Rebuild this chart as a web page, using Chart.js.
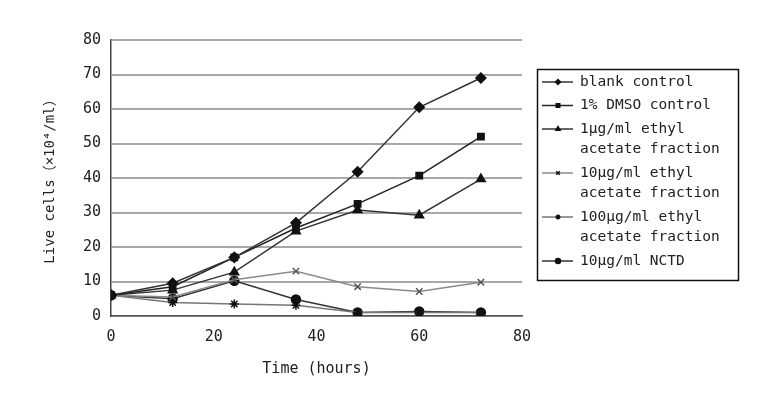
<!DOCTYPE html>
<html lang="en">
<head>
<meta charset="UTF-8">
<title>Live cells</title>
<script src="https://cdn.jsdelivr.net/npm/chart.js@4.4.0"></script>
<style>
  body { margin: 0; background: #fff; }
  #wrap { width: 757px; height: 394px; }
</style>
</head>
<body>
<div id="wrap"><canvas id="c" width="757" height="394"></canvas></div>
<script>
// time points (hours)
const hours = [0, 12, 24, 36, 48, 60, 72];

// live cells (x10^4/ml)
const blankControl = [6, 9.5, 17, 27, 41.8, 60.5, 69];
const dmsoControl = [6, 8.5, 17, 25.5, 32.5, 40.7, 52];
const ethyl1 = [6, 7.5, 12.7, 24.6, 30.7, 29.2, 39.7];
const ethyl10 = [6, 5.5, 10.5, 13, 8.5, 7.1, 9.8];
const ethyl100 = [6, 3.9, 3.5, 3.1, 1, 1, 1];
const nctd = [6, 5, 10.2, 4.8, 1, 1.3, 1];

const yTicks = [0, 10, 20, 30, 40, 50, 60, 70, 80];
const xTicks = [0, 20, 40, 60, 80];

const seriesNames = [
  ['blank control'],
  ['1% DMSO control'],
  ['1μg/ml ethyl', 'acetate fraction'],
  ['10μg/ml ethyl', 'acetate fraction'],
  ['100μg/ml ethyl', 'acetate fraction'],
  ['10μg/ml NCTD']
];

const FONT = '"DejaVu Sans Mono", "Noto Sans CJK JP", monospace';

function pts(vals) { return hours.map((h, i) => ({ x: h, y: vals[i] })); }

const styles = [
  { line: '#333', point: 'rectRot', r: 5 },
  { line: '#222', point: 'rect', r: 4.5 },
  { line: '#333', point: 'triangle', r: 5 },
  { line: '#8a8a8a', point: 'crossRot', r: 4.5 },
  { line: '#777', point: 'star', r: 4.5 },
  { line: '#333', point: 'circle', r: 4.5 }
];
const values = [blankControl, dmsoControl, ethyl1, ethyl10, ethyl100, nctd];

const datasets = values.map((v, i) => ({
  label: seriesNames[i].join(' '),
  data: pts(v),
  borderColor: styles[i].line,
  borderWidth: 1.5,
  pointStyle: styles[i].point,
  pointRadius: styles[i].r,
  pointBackgroundColor: '#111',
  pointBorderColor: i === 3 ? '#555' : '#111',
  pointBorderWidth: 1.5,
  tension: 0
}));

const legendBox = {
  id: 'legendBox',
  afterDraw(chart) {
    const ctx = chart.ctx;
    ctx.save();
    ctx.strokeStyle = '#111';
    ctx.lineWidth = 1.5;
    ctx.strokeRect(537.5, 69.5, 201, 211);
    ctx.font = '14.5px ' + FONT;
    ctx.textBaseline = 'middle';
    let y = 82;
    seriesNames.forEach((lines, i) => {
      ctx.strokeStyle = styles[i].line;
      ctx.lineWidth = 1.5;
      ctx.beginPath();
      ctx.moveTo(542, y);
      ctx.lineTo(573, y);
      ctx.stroke();
      ctx.fillStyle = '#111';
      ctx.strokeStyle = '#111';
      Chart.helpers.drawPoint(ctx, { pointStyle: styles[i].point, radius: 2.5, borderWidth: 1 }, 558, y);
      ctx.fillStyle = '#222';
      lines.forEach((t, k) => {
        ctx.fillText(t, 580, y + k * 20.5);
      });
      y += lines.length * 20.5 + 3;
    });
    ctx.restore();
  }
};

new Chart(document.getElementById('c'), {
  type: 'line',
  data: { datasets },
  options: {
    responsive: false,
    animation: false,
    layout: { padding: { left: 38, top: 40, right: 235, bottom: 16 } },
    plugins: { legend: { display: false }, tooltip: { enabled: false } },
    scales: {
      x: {
        type: 'linear',
        min: 0, max: 80,
        afterBuildTicks: s => { s.ticks = xTicks.map(v => ({ value: v })); },
        afterFit: s => { s.height = 62; },
        grid: { display: true, drawOnChartArea: false, drawTicks: false, color: '#888' },
        border: { color: '#555', width: 1.5 },
        ticks: { color: '#222', padding: 12, font: { family: FONT, size: 15 }, maxRotation: 0 },
        title: { display: true, text: 'Time (hours)', color: '#222', padding: 0, font: { family: FONT, size: 15 } }
      },
      y: {
        min: 0, max: 80,
        afterBuildTicks: s => { s.ticks = yTicks.map(v => ({ value: v })); },
        afterFit: s => { s.width = 73; },
        grid: { color: '#a8a8a8', lineWidth: 2, drawTicks: false },
        border: { color: '#444', width: 1.5 },
        ticks: { color: '#222', padding: 10, font: { family: FONT, size: 15 } },
        title: { display: true, text: 'Live cells（×10⁴/ml）', color: '#222', font: { family: FONT, size: 14 }, padding: 4 }
      }
    }
  },
  plugins: [legendBox]
});
</script>
</body>
</html>
